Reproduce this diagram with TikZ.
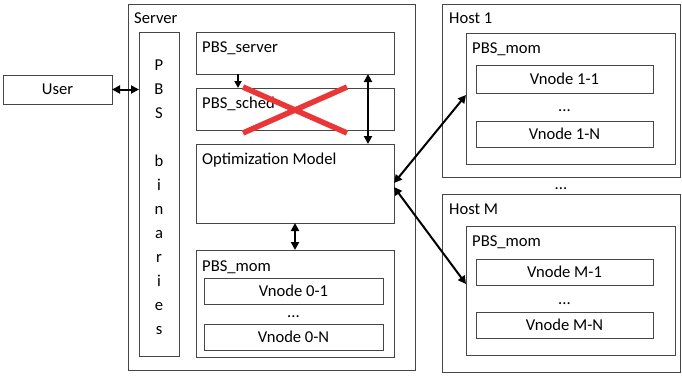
\documentclass[tikz,border=0pt]{standalone}
\usepackage{fontspec}
\setmainfont{Carlito}
\usetikzlibrary{arrows.meta}
\definecolor{boxgray}{RGB}{70,70,70}
\definecolor{crossred}{RGB}{234,54,54}
\begin{document}
\begin{tikzpicture}[x=1pt,y=-1pt,
  font=\fontsize{16.6}{19}\selectfont,
  box/.style={draw=boxgray, line width=1pt, inner sep=0pt, outer sep=0pt, anchor=north west},
  lbl/.style={anchor=base west, inner sep=0pt},
  dotsnode/.style={anchor=base, inner sep=0pt},
  biarrow/.style={line width=2pt, {Triangle[length=8pt,width=8pt]}-{Triangle[length=8pt,width=8pt]}},
  onearrow/.style={line width=2pt, -{Triangle[length=7pt,width=7pt]}},
  crossline/.style={draw=crossred, line width=5.5pt}]
\useasboundingbox (0,0) rectangle (682,375);
% user
\node[box, minimum width=109pt, minimum height=29pt] (user) at (3,75) {User};
% server
\node[box, minimum width=287pt, minimum height=366pt] (server) at (128,4) {};
\node[lbl] (serverlbl) at (134,23) {Server};
\node[box, minimum width=40pt, minimum height=324pt] (bin) at (139,32) {};
\node[align=center, inner sep=0pt, font=\fontsize{16.6}{24}\selectfont] (bintext) at (159,197)
  {P\\B\\S\\[24pt]b\\i\\n\\a\\r\\i\\e\\s};
\node[box, minimum width=198pt, minimum height=42pt] (psrv) at (196,32) {};
\node[lbl] (psrvlbl) at (202,52) {PBS\_server};
\node[box, minimum width=198pt, minimum height=42pt] (psch) at (196,88) {};
\node[lbl] (pschlbl) at (202,108) {PBS\_sched};
\node[box, minimum width=198pt, minimum height=79pt] (opt) at (196,144) {};
\node[lbl] (optlbl) at (202,164) {Optimization Model};
\node[box, minimum width=198pt, minimum height=107pt] (mom0) at (196,250) {};
\node[lbl] (mom0lbl) at (202,271) {PBS\_mom};
\node[box, minimum width=179pt, minimum height=26pt] (v01) at (204,278) {Vnode 0-1};
\node[dotsnode] (d0) at (293.5,317) {...};
\node[box, minimum width=179pt, minimum height=26pt] (v0N) at (204,324) {Vnode 0-N};
% host 1
\node[box, minimum width=238pt, minimum height=173pt] (host1) at (442,4) {};
\node[lbl] (host1lbl) at (449,23) {Host 1};
\node[box, minimum width=209pt, minimum height=131pt] (mom1) at (466,33) {};
\node[lbl] (mom1lbl) at (472,53) {PBS\_mom};
\node[box, minimum width=177pt, minimum height=28pt] (v11) at (476,65) {Vnode 1-1};
\node[dotsnode] (d1) at (564.5,111) {...};
\node[box, minimum width=177pt, minimum height=26pt] (v1N) at (476,121) {Vnode 1-N};
\node[dotsnode] (dh) at (561,189) {...};
% host M
\node[box, minimum width=238pt, minimum height=178pt] (hostM) at (442,194) {};
\node[lbl] (hostMlbl) at (449,214) {Host M};
\node[box, minimum width=209pt, minimum height=129pt] (momM) at (466,226) {};
\node[lbl] (momMlbl) at (472,246) {PBS\_mom};
\node[box, minimum width=177pt, minimum height=26pt] (vM1) at (476,259) {Vnode M-1};
\node[dotsnode] (dM) at (564.5,304) {...};
\node[box, minimum width=177pt, minimum height=26pt] (vMN) at (476,312) {Vnode M-N};
% connectors
\draw[biarrow] (user.east) -- (bin.west |- user.east);
\draw[onearrow] ([xshift=42pt]psrv.south west) -- ([xshift=42pt]psch.north west);
\draw[biarrow] ([xshift=172pt]psrv.south west) -- ([xshift=172pt]opt.north west);
\draw[biarrow] ([xshift=99pt]opt.south west) -- ([xshift=99pt]mom0.north west);
\draw[biarrow] ([yshift=-39pt]opt.north east) -- ([yshift=-62pt]mom1.north west);
\draw[biarrow] ([yshift=-43pt]opt.north east) -- ([yshift=-58pt]momM.north west);
% red cross
\draw[crossline] (243,87) -- (347,133);
\draw[crossline] (243,133) -- (347,87);
\end{tikzpicture}
\end{document}
